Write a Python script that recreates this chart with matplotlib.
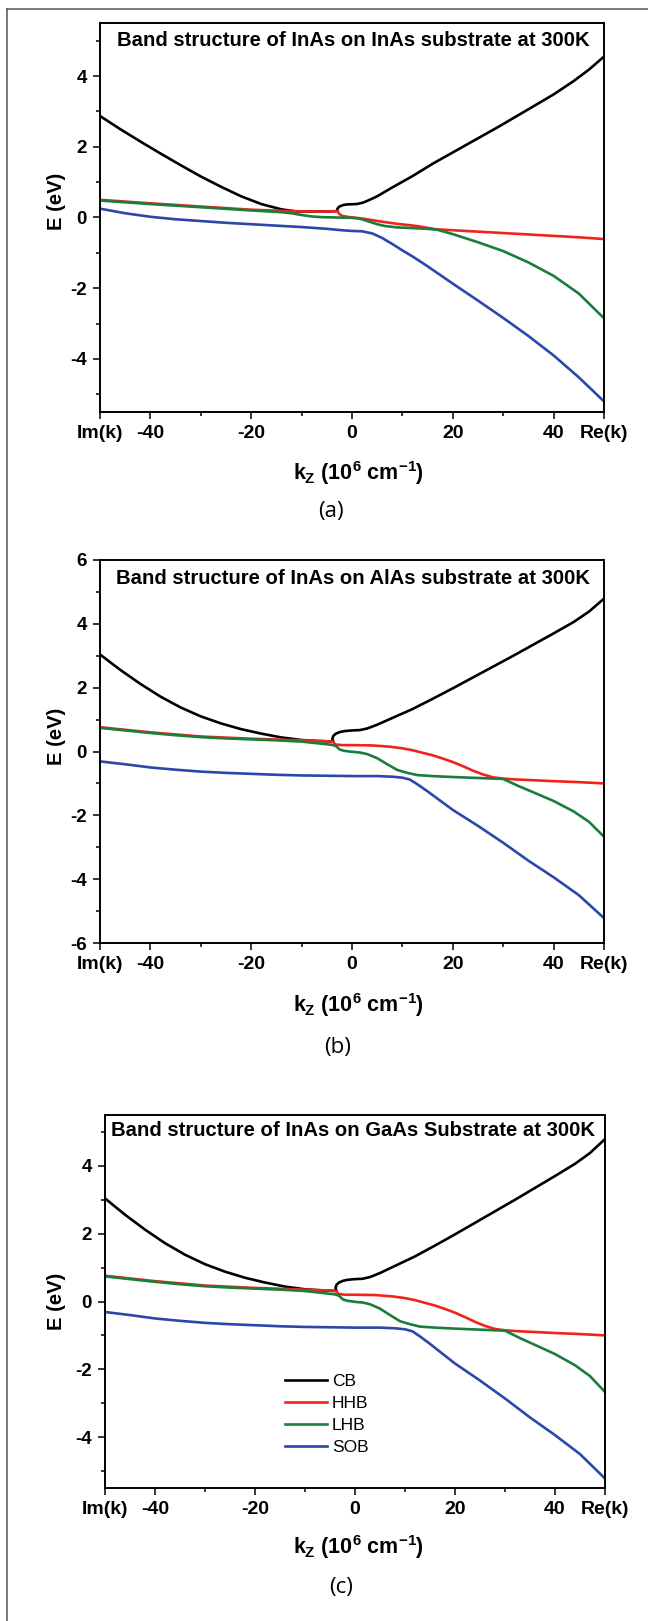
import numpy as np
import matplotlib
matplotlib.use('Agg')
import matplotlib.pyplot as plt

plt.rcParams['font.family'] = ['Liberation Sans', 'DejaVu Sans']
plt.rcParams['axes.unicode_minus'] = False
plt.rcParams['mathtext.fontset'] = 'custom'
plt.rcParams['mathtext.rm'] = 'Liberation Sans:bold'
plt.rcParams['mathtext.it'] = 'Liberation Sans:bold'
plt.rcParams['mathtext.bf'] = 'Liberation Sans:bold'

'''band data read off the figure, k in 1e6 cm^-1 (negative side = Im(k))'''
# (a) InAs on InAs
k_cb_a = [-50, -46, -42, -38, -34, -30, -26, -22, -18, -14, -11, -8, -5, -2.9, -2.9, -2.5, -1.8, -1.0, 0.9, 2.2, 3.5, 5, 8, 12, 16, 20, 25, 29, 35, 40, 44, 47, 50]
e_cb_a = [2.87, 2.5, 2.15, 1.81, 1.48, 1.16, 0.87, 0.6, 0.38, 0.23, 0.17, 0.17, 0.17, 0.18, 0.25, 0.31, 0.35, 0.37, 0.38, 0.42, 0.5, 0.6, 0.85, 1.17, 1.52, 1.84, 2.24, 2.56, 3.06, 3.48, 3.86, 4.18, 4.55]
k_hh_a = [-50, -40, -30, -20, -12, -8, -5, -2.9, -2.5, -2.0, -1, 0.9, 3, 6, 9, 12.8, 16.5, 20, 25, 30, 35, 40, 45, 50]
e_hh_a = [0.50, 0.40, 0.31, 0.22, 0.18, 0.17, 0.17, 0.18, 0.10, 0.05, 0.02, -0.01, -0.05, -0.12, -0.18, -0.24, -0.33, -0.36, -0.40, -0.44, -0.48, -0.52, -0.56, -0.61]
k_lh_a = [-50, -40, -30, -20, -14, -12, -10, -8, -6, -3, 0, 1.5, 3.5, 5, 6.5, 9, 12, 15, 17, 20, 25, 30, 35, 40, 45, 50]
e_lh_a = [0.48, 0.38, 0.29, 0.20, 0.15, 0.12, 0.07, 0.03, 0.01, 0.0, -0.01, -0.03, -0.12, -0.19, -0.24, -0.28, -0.30, -0.32, -0.35, -0.47, -0.7, -0.95, -1.27, -1.65, -2.15, -2.85]
k_so_a = [-50, -45, -40, -35, -30, -25, -20, -15, -10, -5, -2, 0, 2, 4, 6, 8, 10, 12, 15, 20, 25, 30, 35, 40, 45, 50]
e_so_a = [0.25, 0.12, 0.02, -0.05, -0.10, -0.15, -0.19, -0.23, -0.27, -0.32, -0.36, -0.38, -0.39, -0.45, -0.58, -0.75, -0.93, -1.1, -1.38, -1.87, -2.35, -2.84, -3.35, -3.9, -4.52, -5.2]

# (b) InAs on AlAs  /  (c) InAs on GaAs  (curves look the same in both)
k_cb_b = [-50, -46, -42, -38, -34, -30, -26, -22, -18, -14, -10, -7, -3.7, -3.9, -3.7, -3.2, -2.4, -1.5, 0, 1.5, 3, 5, 8, 12, 16, 20, 24, 28, 32, 36, 40, 44, 47, 50]
e_cb_b = [3.04, 2.56, 2.12, 1.72, 1.38, 1.1, 0.88, 0.7, 0.56, 0.44, 0.36, 0.33, 0.31, 0.40, 0.49, 0.56, 0.61, 0.64, 0.66, 0.67, 0.72, 0.84, 1.05, 1.33, 1.65, 1.98, 2.32, 2.66, 3.0, 3.35, 3.7, 4.06, 4.38, 4.79]
k_hh_b = [-50, -40, -30, -20, -10, -6, -3.8, -3.3, -2, 0, 4, 7.5, 10, 12, 14, 16, 18, 20, 22, 24, 26, 28, 30, 33, 36, 40, 45, 50]
e_hh_b = [0.76, 0.60, 0.47, 0.40, 0.35, 0.33, 0.31, 0.22, 0.20, 0.20, 0.19, 0.15, 0.1, 0.04, -0.04, -0.12, -0.22, -0.33, -0.46, -0.6, -0.72, -0.81, -0.85, -0.88, -0.9, -0.93, -0.96, -1.0]
k_lh_b = [-50, -45, -40, -35, -30, -25, -20, -15, -10, -7, -4, -3.2, -2.4, -1.5, 0, 1.5, 3, 5, 7, 9, 11, 13, 16, 20, 25, 30, 33, 36, 40, 44, 47, 50]
e_lh_b = [0.74, 0.66, 0.58, 0.51, 0.45, 0.41, 0.38, 0.35, 0.31, 0.26, 0.21, 0.17, 0.06, 0.02, -0.01, -0.03, -0.08, -0.21, -0.4, -0.58, -0.67, -0.74, -0.77, -0.8, -0.83, -0.86, -1.08, -1.28, -1.55, -1.88, -2.2, -2.67]
k_so_b = [-50, -45, -40, -35, -30, -25, -20, -15, -10, -5, 0, 5, 8, 10, 11.5, 13, 15, 20, 25, 30, 35, 40, 45, 50]
e_so_b = [-0.31, -0.40, -0.50, -0.57, -0.63, -0.67, -0.70, -0.73, -0.75, -0.76, -0.77, -0.77, -0.79, -0.82, -0.88, -1.03, -1.25, -1.83, -2.33, -2.86, -3.42, -3.94, -4.5, -5.22]

band_names = ['CB', 'HHB', 'LHB', 'SOB']
band_colors = ['k', '#f2231c', '#1a7d3c', '#2b47a9']
titles = ['Band structure of InAs on InAs substrate at 300K',
          'Band structure of InAs on AlAs substrate at 300K',
          'Band structure of InAs on GaAs Substrate at 300K']
tags = ['(a)', '(b)', '(c)']
xtick_pos = [-50, -40, -20, 0, 20, 40, 50]
xtick_lab = ['Im(k)', '-40', '-20', '0', '20', '40', 'Re(k)']

panels = [
    [(k_cb_a, e_cb_a), (k_hh_a, e_hh_a), (k_lh_a, e_lh_a), (k_so_a, e_so_a)],
    [(k_cb_b, e_cb_b), (k_hh_b, e_hh_b), (k_lh_b, e_lh_b), (k_so_b, e_so_b)],
    [(k_cb_b, e_cb_b), (k_hh_b, e_hh_b), (k_lh_b, e_lh_b), (k_so_b, e_so_b)],
]
ylims = [(-5.5, 5.5), (-6, 6), (-5.5, 5.5)]
ymajor = [np.arange(-4, 5, 2), np.arange(-6, 7, 2), np.arange(-4, 5, 2)]
yminor = [np.arange(-5, 6, 2), np.arange(-5, 6, 2), np.arange(-5, 6, 2)]

W, H = 648, 1621
# axes boxes in pixels: left, top, right, bottom
boxes = [(100, 23, 604, 412), (100, 560, 604, 943), (105, 1115, 605, 1488)]
title_y = [40, 578, 1131]
xlab_y = [473, 1005, 1547]
ylab_y = [201, 736, 1301]
tag_pos = [(331, 512), (338, 1047), (341, 1588)]

fig = plt.figure(figsize=(W / 100, H / 100), dpi=100)
# outer frame of the figure (only top/left visible)
fig.add_artist(plt.Line2D([7 / W, 7 / W], [0, 1 - 9 / H], color='#555555', lw=1.1))
fig.add_artist(plt.Line2D([7 / W, 1], [1 - 9 / H, 1 - 9 / H], color='#555555', lw=1.1))

for i in range(3):
    l, t, r, b = boxes[i]
    ax = fig.add_axes([l / W, 1 - b / H, (r - l) / W, (b - t) / H])
    for (k, e), c, name in zip(panels[i], band_colors, band_names):
        ax.plot(k, e, color=c, lw=1.9, label=name, solid_joinstyle='round')
    ax.set_xlim(-50, 50)
    ax.set_ylim(*ylims[i])
    ax.set_xticks(xtick_pos)
    ax.set_xticklabels(xtick_lab)
    ax.set_xticks([-30, -10, 10, 30], minor=True)
    ax.set_yticks(ymajor[i])
    ax.set_yticks(yminor[i], minor=True)
    ax.tick_params(which='both', direction='out', width=1.1)
    ax.tick_params(which='major', length=5.3, pad=4.3)
    ax.tick_params(which='minor', length=3)
    ax.tick_params(axis='x', labelsize=14)
    ax.tick_params(axis='y', labelsize=13.5)
    for lab in ax.get_xticklabels() + ax.get_yticklabels():
        lab.set_fontweight('bold')
    for sp in ax.spines.values():
        sp.set_linewidth(1.4)
    fig.text(353 / W, 1 - title_y[i] / H, titles[i], ha='center', va='center',
             fontsize=14.6, fontweight='bold')
    fig.text(358 / W, 1 - xlab_y[i] / H, r'$k_Z$ (10$^6$ cm$^{-1}$)', ha='center',
             va='center', fontsize=15.5, fontweight='bold')
    fig.text(57 / W, 1 - ylab_y[i] / H, 'E (eV)', ha='center', va='center',
             rotation=90, fontsize=14.5, fontweight='bold')
    fig.text(tag_pos[i][0] / W, 1 - tag_pos[i][1] / H, tags[i], ha='center', va='center',
             fontsize=16, family=['Open Sans', 'DejaVu Sans'])
    if i == 2:
        ax.legend(loc='upper left', bbox_to_anchor=(0.36, 0.305), frameon=False,
                  fontsize=12.5, handlelength=2.4, handletextpad=0.3,
                  labelspacing=0.38, borderpad=0, borderaxespad=0)

plt.savefig('out.png', dpi=100)
